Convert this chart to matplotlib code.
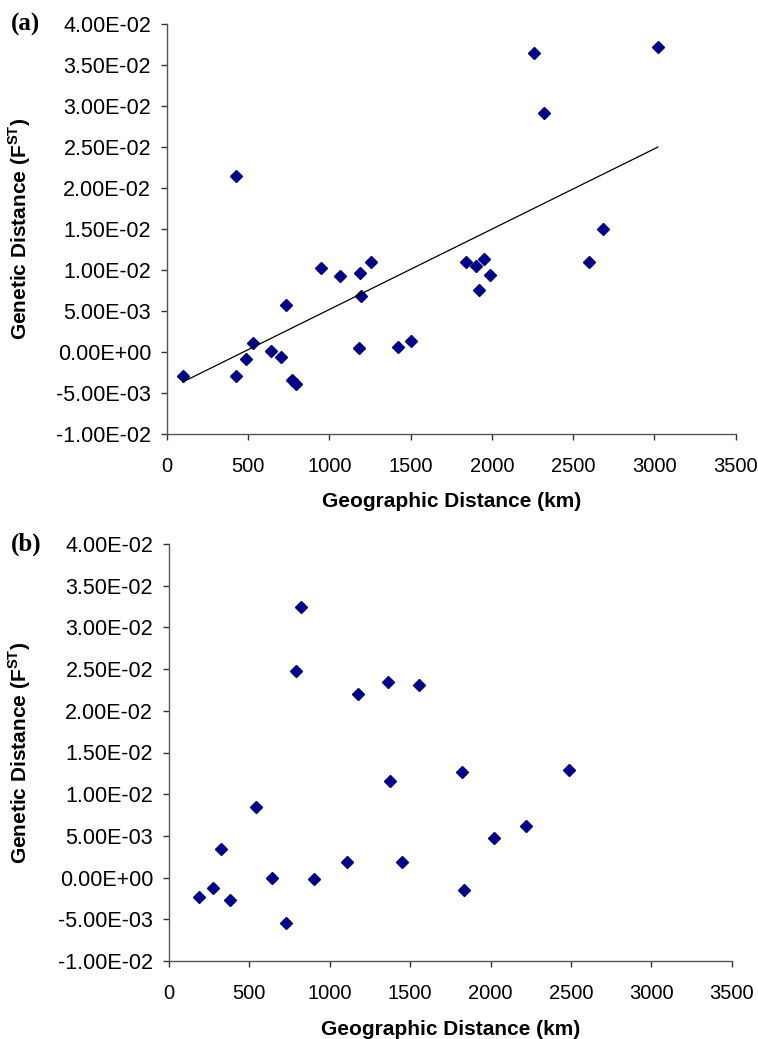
import numpy as np
import matplotlib
matplotlib.use("Agg")
import matplotlib.pyplot as plt

plt.rcParams['font.family'] = ['Liberation Sans', 'DejaVu Sans']
plt.rcParams['mathtext.fontset'] = 'custom'
plt.rcParams['mathtext.bf'] = 'Liberation Sans:bold'
plt.rcParams['mathtext.rm'] = 'Liberation Sans:bold'

# Panel (a) data: geographic distance (km) vs genetic distance (FST)
geo_a = [98, 423, 423, 486, 530, 642, 700, 731, 772, 796, 950, 1063, 1190, 1193,
         1184, 1258, 1420, 1500, 1841, 1899, 1954, 1987, 1919, 2599, 2260, 3021,
         2318, 2683]
fst_a = [-0.0029, -0.0029, 0.0214, -0.00085, 0.0011, 0.0001, -0.0007, 0.0057,
         -0.0034, -0.0039, 0.0102, 0.0093, 0.0096, 0.0068, 0.00045, 0.0109,
         0.0006, 0.00126, 0.0109, 0.0105, 0.01136, 0.0094, 0.0075, 0.0110,
         0.0364, 0.0372, 0.0291, 0.0150]

# Panel (b) data
geo_b = [187, 276, 321, 379, 543, 643, 726, 904, 1109, 823, 790, 1175, 1362,
         1557, 1372, 1820, 2489, 1451, 1836, 2023, 2220]
fst_b = [-0.00236, -0.00124, 0.00344, -0.00264, 0.00848, 0.0, -0.0055, -0.00016,
         0.00188, 0.0324, 0.0248, 0.0220, 0.0234, 0.0231, 0.01163, 0.0127,
         0.0129, 0.00188, -0.00144, 0.0047, 0.00615]

x_ticks = [0, 500, 1000, 1500, 2000, 2500, 3000, 3500]
y_ticks = [-0.01, -0.005, 0.0, 0.005, 0.01, 0.015, 0.02, 0.025, 0.03, 0.035, 0.04]

W, H = 758, 1039
fig = plt.figure(figsize=(W / 100, H / 100), dpi=100)

def make_ax(l, r, t, b):
    return fig.add_axes([l / W, 1 - b / H, (r - l) / W, (b - t) / H])

ax_a = make_ax(167, 735.7, 24, 433.7)
ax_b = make_ax(169, 731.7, 544, 961)

navy = '#000080'

def fmt(v):
    s = "%.2E" % v
    if v == 0:
        s = "0.00E+00"
    return s

panels = [(ax_a, geo_a, fst_a, '(a)', 167, 735.7),
          (ax_b, geo_b, fst_b, '(b)', 169, 731.7)]
for ax, gx, gy, lab, l, r in panels:
    ax.plot(gx, gy, linestyle='none', marker='D', markersize=6.2,
            color=navy, markeredgecolor=navy)
    ax.set_xlim(0, 3500)
    ax.set_ylim(-0.01, 0.04)
    ax.set_xticks(x_ticks)
    ax.set_yticks(y_ticks)
    ax.set_yticklabels([fmt(v) for v in y_ticks])
    for s in ['top', 'right']:
        ax.spines[s].set_visible(False)
    for s in ['left', 'bottom']:
        ax.spines[s].set_color('#555555')
        ax.spines[s].set_linewidth(1.0)
    ax.tick_params(axis='both', direction='out', length=4.5, width=1.0,
                   color='#333333')
    ax.tick_params(axis='y', labelsize=15.5, pad=7)
    ax.tick_params(axis='x', labelsize=14.5, pad=12)
    ax.set_xlabel('Geographic Distance (km)', fontsize=15, fontweight='bold',
                  labelpad=12)
    ax.set_ylabel(r'Genetic Distance (F$^{\mathbf{ST}}$)', fontsize=15,
                  fontweight='bold')
    wpx = r - l
    ax.yaxis.set_label_coords((33 - l) / wpx, 0.5)
    ax.text((11 - l) / wpx, 1.0, lab, transform=ax.transAxes, fontsize=18,
            fontweight='bold', family='Liberation Serif', va='center',
            ha='left')

# Linear trendline for panel (a)
coef = np.polyfit(geo_a, fst_a, 1)
xl = np.array([min(geo_a), max(geo_a)])
ax_a.plot(xl, np.polyval(coef, xl), color='black', linewidth=0.9)

fig.savefig('out.png', dpi=100)
